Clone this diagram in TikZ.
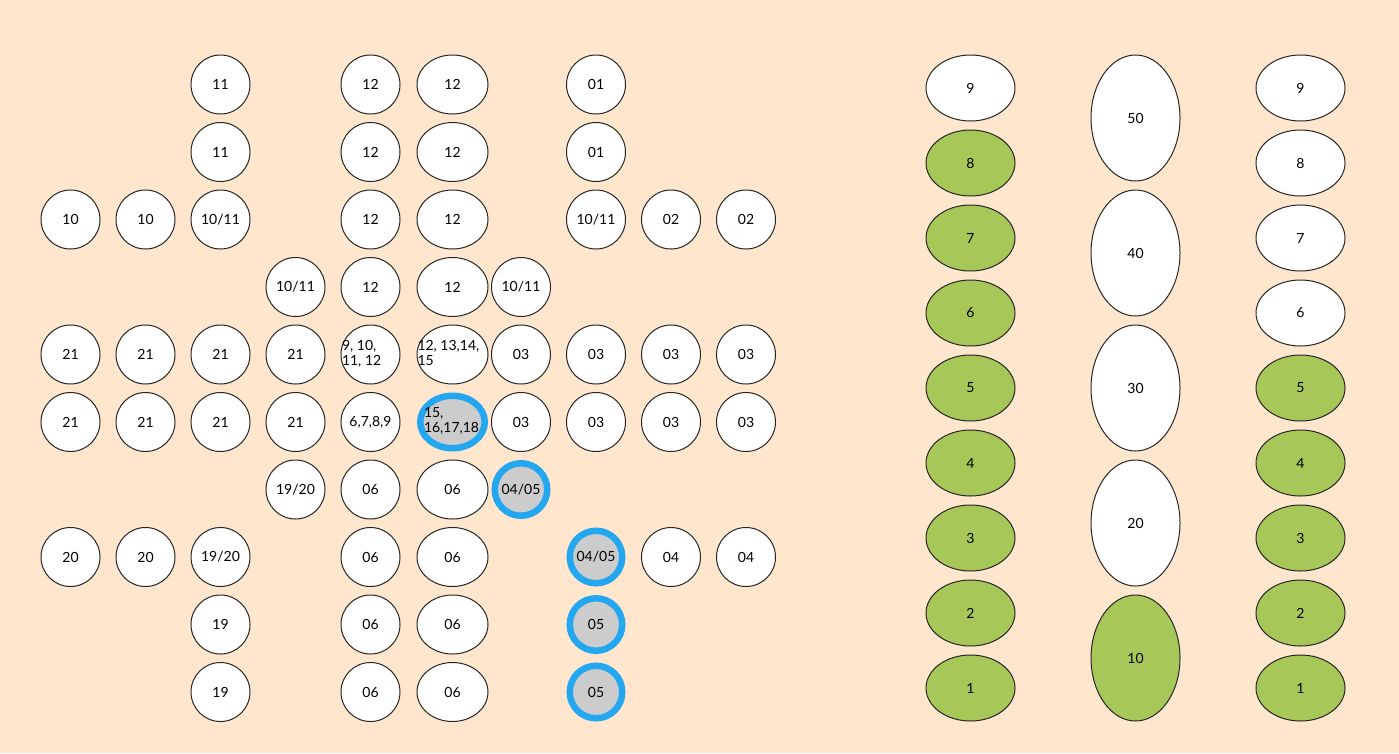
\documentclass[tikz,border=0pt]{standalone}
\usepackage{fontspec}
\setmainfont{Lato}
\usetikzlibrary{shapes.geometric}
\definecolor{bgc}{HTML}{FFE6CC}
\definecolor{grn}{HTML}{A7C858}
\definecolor{ringc}{HTML}{22A7F0}
\definecolor{cellgray}{HTML}{CCCCCC}
\newcommand{\lefttxt}[2]{\makebox[0pt][l]{\hspace*{#1}\begin{tabular}{@{}l@{}}#2\end{tabular}}}
\begin{document}
\begin{tikzpicture}[x=1pt,y=-1pt,
  base/.style={draw=black!85, line width=1pt, inner sep=0pt, font=\fontsize{14}{15}\selectfont, text=black},
  cell/.style={base, circle, fill=white, minimum size=59pt},
  wide/.style={base, ellipse, fill=white, minimum width=71pt, minimum height=59pt},
  hot/.style={draw=ringc, line width=6.5pt, fill=cellgray},
  hotc/.style={cell, hot, minimum size=52.5pt},
  hotw/.style={wide, hot, minimum width=64.5pt, minimum height=52.5pt},
  pin/.style={base, ellipse, minimum width=89pt, minimum height=66pt},
  bar/.style={base, ellipse, minimum width=89pt, minimum height=126pt}]
\fill[bgc] (0,0) rectangle (1399,753);
\useasboundingbox (0,0) rectangle (1399,753);
% row 1
\node[cell] (r1c3) at (220.5,84.5) {11};
\node[cell] (r1c5) at (370.5,84.5) {12};
\node[wide] (r1c6) at (452.5,84.5) {12};
\node[cell] (r1c8) at (596,84.5) {01};
% row 2
\node[cell] (r2c3) at (220.5,152) {11};
\node[cell] (r2c5) at (370.5,152) {12};
\node[wide] (r2c6) at (452.5,152) {12};
\node[cell] (r2c8) at (596,152) {01};
% row 3
\node[cell] (r3c1) at (70.5,219.5) {10};
\node[cell] (r3c2) at (145.5,219.5) {10};
\node[cell] (r3c3) at (220.5,219.5) {10/11};
\node[cell] (r3c5) at (370.5,219.5) {12};
\node[wide] (r3c6) at (452.5,219.5) {12};
\node[cell] (r3c8) at (596,219.5) {10/11};
\node[cell] (r3c9) at (671,219.5) {02};
\node[cell] (r3c10) at (746,219.5) {02};
% row 4
\node[cell] (r4c4) at (295.5,287) {10/11};
\node[cell] (r4c5) at (370.5,287) {12};
\node[wide] (r4c6) at (452.5,287) {12};
\node[cell] (r4c7) at (521,287) {10/11};
% row 5
\node[cell] (r5c1) at (70.5,354.5) {21};
\node[cell] (r5c2) at (145.5,354.5) {21};
\node[cell] (r5c3) at (220.5,354.5) {21};
\node[cell] (r5c4) at (295.5,354.5) {21};
\node[cell] (r5c5) at (370.5,354.5) {\lefttxt{-28.5pt}{9, 10,\\11, 12}};
\node[wide] (r5c6) at (452.5,354.5) {\lefttxt{-35pt}{12, 13,14,\\15}};
\node[cell] (r5c7) at (521,354.5) {03};
\node[cell] (r5c8) at (596,354.5) {03};
\node[cell] (r5c9) at (671,354.5) {03};
\node[cell] (r5c10) at (746,354.5) {03};
% row 6
\node[cell] (r6c1) at (70.5,422) {21};
\node[cell] (r6c2) at (145.5,422) {21};
\node[cell] (r6c3) at (220.5,422) {21};
\node[cell] (r6c4) at (295.5,422) {21};
\node[cell] (r6c5) at (370.5,422) {6,7,8,9};
\node[hotw] (r6c6) at (452.5,422) {\lefttxt{-28.5pt}{15,\\16,17,18}};
\node[cell] (r6c7) at (521,422) {03};
\node[cell] (r6c8) at (596,422) {03};
\node[cell] (r6c9) at (671,422) {03};
\node[cell] (r6c10) at (746,422) {03};
% row 7
\node[cell] (r7c4) at (295.5,489.5) {19/20};
\node[cell] (r7c5) at (370.5,489.5) {06};
\node[wide] (r7c6) at (452.5,489.5) {06};
\node[hotc] (r7c7) at (521,489.5) {04/05};
% row 8
\node[cell] (r8c1) at (70.5,557) {20};
\node[cell] (r8c2) at (145.5,557) {20};
\node[cell] (r8c3) at (220.5,557) {19/20};
\node[cell] (r8c5) at (370.5,557) {06};
\node[wide] (r8c6) at (452.5,557) {06};
\node[hotc] (r8c8) at (596,557) {04/05};
\node[cell] (r8c9) at (671,557) {04};
\node[cell] (r8c10) at (746,557) {04};
% row 9
\node[cell] (r9c3) at (220.5,624.5) {19};
\node[cell] (r9c5) at (370.5,624.5) {06};
\node[wide] (r9c6) at (452.5,624.5) {06};
\node[hotc] (r9c8) at (596,624.5) {05};
% row 10
\node[cell] (r10c3) at (220.5,692) {19};
\node[cell] (r10c5) at (370.5,692) {06};
\node[wide] (r10c6) at (452.5,692) {06};
\node[hotc] (r10c8) at (596,692) {05};
% right side
\foreach \v/\y/\f in {9/88/white, 8/163/grn, 7/238/grn, 6/313/grn, 5/388/grn, 4/463/grn, 3/538/grn, 2/613/grn, 1/688/grn}
  \node[pin, fill=\f] (L\v) at (970.5,\y) {\v};
\foreach \v/\y/\f in {50/118/white, 40/253/white, 30/388/white, 20/523/white, 10/658/grn}
  \node[bar, fill=\f] (M\v) at (1135.5,\y) {\v};
\foreach \v/\y/\f in {9/88/white, 8/163/white, 7/238/white, 6/313/white, 5/388/grn, 4/463/grn, 3/538/grn, 2/613/grn, 1/688/grn}
  \node[pin, fill=\f] (R\v) at (1300.5,\y) {\v};
\end{tikzpicture}
\end{document}
